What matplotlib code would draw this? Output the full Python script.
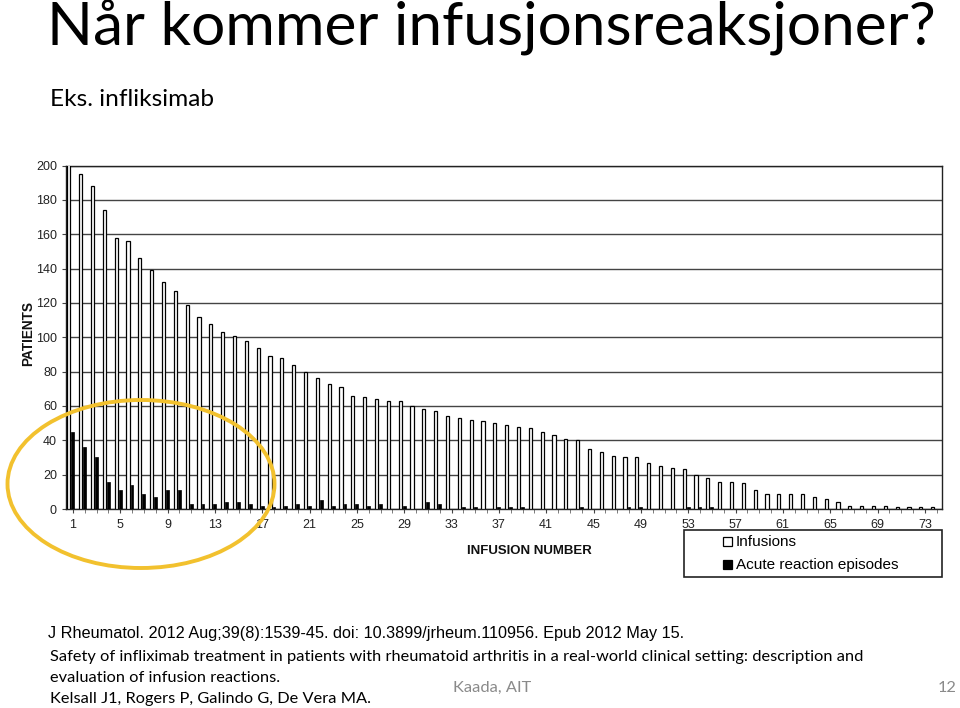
import numpy as np
import matplotlib
matplotlib.use("Agg")
import matplotlib.pyplot as plt
from matplotlib.patches import Ellipse, Rectangle

# infusion number 1..74
infusions = [205, 195, 188, 174, 158, 156, 146, 139, 132, 127,
             119, 112, 108, 103, 101, 98, 94, 89, 88, 84,
             80, 76, 73, 71, 66, 65, 64, 63, 63, 60,
             58, 57, 54, 53, 52, 51, 50, 49, 48, 47,
             45, 43, 41, 40, 35, 33, 31, 30, 30, 27,
             25, 24, 23, 20, 18, 16, 16, 15, 11, 9,
             9, 9, 9, 7, 6, 4, 2, 2, 2, 2,
             1, 1, 1, 1]
reactions = [45, 36, 30, 16, 11, 14, 9, 7, 11, 11,
             3, 3, 3, 4, 4, 3, 2, 1, 2, 3,
             2, 5, 2, 3, 3, 2, 3, 0, 2, 0,
             4, 3, 0, 1, 1, 0, 1, 1, 1, 0,
             0, 0, 0, 1, 0, 0, 0, 1, 1, 0,
             0, 0, 1, 1, 1, 0, 0, 0, 0, 0,
             0, 0, 0, 0, 0, 0, 0, 0, 0, 0,
             0, 0, 0, 0]
xticks = list(range(1, 74, 4))

title = "Når kommer infusjonsreaksjoner?"
subtitle = "Eks. infliksimab"
ref_line = "J Rheumatol. 2012 Aug;39(8):1539-45. doi: 10.3899/jrheum.110956. Epub 2012 May 15."
paper = ["Safety of infliximab treatment in patients with rheumatoid arthritis in a real-world clinical setting: description and",
         "evaluation of infusion reactions.",
         "Kelsall J1, Rogers P, Galindo G, De Vera MA."]

plt.rcParams['font.family'] = ['Liberation Sans', 'DejaVu Sans']
slide_font = ['Lato', 'DejaVu Sans']

W, H = 960, 708
fig = plt.figure(figsize=(W / 100, H / 100), dpi=100)

# chart area in pixels: left 66, right 942, top 165.5, bottom 509
ax = fig.add_axes([66 / W, 1 - 509 / H, 876 / W, 343.5 / H])
n = np.arange(1, len(infusions) + 1)
ax.bar(n - 0.34, infusions, width=0.26, color='white', edgecolor='black',
       linewidth=0.9, zorder=3)
ax.bar(n, reactions, width=0.24, color='black', edgecolor='black',
       linewidth=0.5, zorder=3)
ax.set_xlim(0.42, 74.45)
ax.set_ylim(0, 200)
ax.set_yticks(range(0, 201, 20))
ax.set_xticks(xticks)
ax.set_xticks(n, minor=True)
ax.tick_params(axis='both', labelsize=9, color='#444', length=3, width=0.8,
               labelcolor='#222')
ax.tick_params(axis='x', which='minor', length=3, color='#666')
ax.tick_params(axis='x', pad=4)
ax.yaxis.grid(True, color='#444', linewidth=1.0, zorder=0)
ax.set_axisbelow(True)
for s in ax.spines.values():
    s.set_color('#222')
    s.set_linewidth(1.0)

# overlay in pixel coordinates for the slide texts
ov = fig.add_axes([0, 0, 1, 1])
ov.set_xlim(0, W)
ov.set_ylim(H, 0)
ov.axis('off')
ov.patch.set_visible(False)

ov.text(47, 46, title, fontsize=43.5, va='baseline', ha='left', family=slide_font)
ov.text(50, 106, subtitle, fontsize=17.6, va='baseline', ha='left',
        family=slide_font)

ov.text(28.5, 333, "PATIENTS", fontsize=9.8, fontweight='bold', rotation=90,
        ha='center', va='center', color='#111')
ov.text(529, 551, "INFUSION NUMBER", fontsize=9.5, fontweight='bold',
        ha='center', va='center', color='#111')

# legend box
ov.add_patch(Rectangle((684, 530), 258, 47, facecolor='white',
                       edgecolor='#222', linewidth=1.2))
ov.add_patch(Rectangle((723, 537), 9, 9, facecolor='white', edgecolor='black',
                       linewidth=0.9))
ov.add_patch(Rectangle((723, 560), 9, 9, facecolor='black', edgecolor='black',
                       linewidth=0.9))
ov.text(736, 542, "Infusions", fontsize=11, va='center', ha='left')
ov.text(736, 565, "Acute reaction episodes", fontsize=11, va='center', ha='left')

# yellow highlight
ov.add_patch(Ellipse((141, 484), 267, 168, fill=False, edgecolor='#F2C12E',
                     linewidth=2.8))

ov.text(48, 638, ref_line, fontsize=11.7, va='baseline', ha='left')
for i, line in enumerate(paper):
    ov.text(50, 661 + 21 * i, line, fontsize=11.8, va='baseline', ha='left',
            family=slide_font)
ov.text(492, 692, "Kaada, AIT", fontsize=11.8, color='#8a8a8a', ha='center',
        va='baseline', family=slide_font)
ov.text(957, 692, "12", fontsize=11.8, color='#8a8a8a', ha='right',
        va='baseline', family=slide_font)

fig.savefig("out.png", dpi=100)
